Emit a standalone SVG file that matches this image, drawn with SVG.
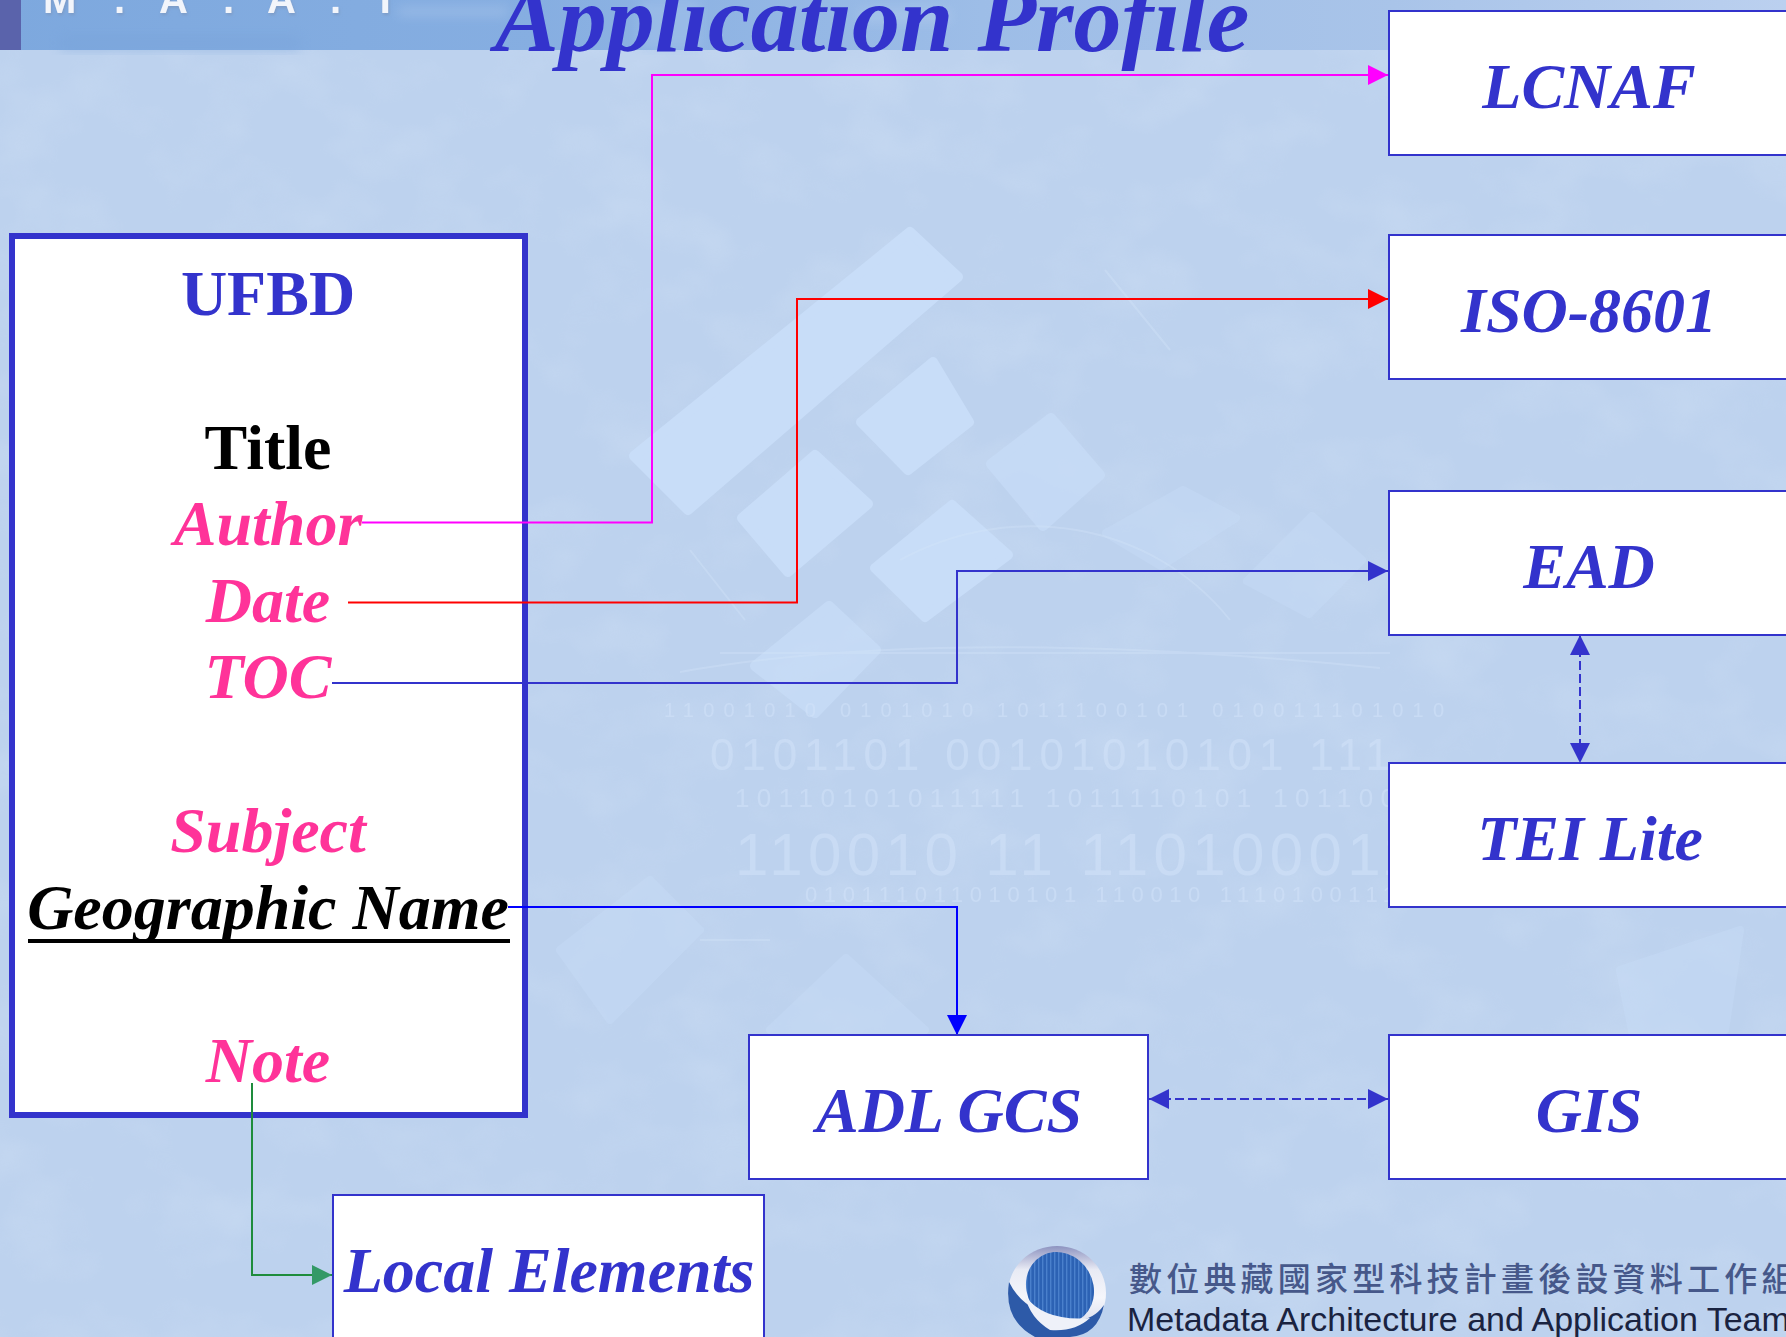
<svg xmlns="http://www.w3.org/2000/svg" width="1786" height="1337" viewBox="0 0 1786 1337">
<style>
.box{fill:#fff;stroke:#3333cc;stroke-width:2}
.lbl{font-family:"Liberation Serif","Times New Roman",serif;font-weight:bold;font-style:italic;font-size:64px;fill:#3333cc;text-anchor:middle}
.pink{font-family:"Liberation Serif","Times New Roman",serif;font-weight:bold;font-style:italic;font-size:64px;fill:#ff3399;text-anchor:middle}
.plain{font-family:"Liberation Serif","Times New Roman",serif;font-weight:bold;font-size:64px;text-anchor:middle}
.bg{font-family:"Liberation Sans",sans-serif;fill:#d4e4fa;opacity:.5}
.tile{fill:#c8ddf8;stroke:#c8ddf8;stroke-width:10;stroke-linejoin:round}
.faint{fill:#c8ddf8;stroke:#c8ddf8;stroke-width:8;stroke-linejoin:round;opacity:.4}
.fl{fill:none;stroke:#d4e4fa;stroke-width:2;opacity:.35}
.m{font-family:"Liberation Sans",sans-serif;font-weight:bold;font-size:40px;fill:#f2f5fb;filter:url(#sh)}
.c{fill:none;stroke-width:2}
</style>
<defs>
<filter id="sh" x="-30%" y="-30%" width="160%" height="160%"><feGaussianBlur stdDeviation=".7" result="b"/><feOffset dx="1" dy="2" in="SourceAlpha"/><feGaussianBlur stdDeviation="1.5"/><feColorMatrix values="0 0 0 0 .2 0 0 0 0 .3 0 0 0 0 .5 0 0 0 .7 0"/><feMerge><feMergeNode/><feMergeNode in="b"/></feMerge></filter>
<filter id="mot" x="0" y="0" width="100%" height="100%"><feTurbulence type="fractalNoise" baseFrequency=".012 .016" numOctaves="3" seed="7"/><feColorMatrix values="0 0 0 0 .85 0 0 0 0 .92 0 0 0 0 1 1.6 0 0 0 -.72"/></filter>
<filter id="bl"><feGaussianBlur stdDeviation="6"/></filter>
<linearGradient id="hd" x1="0" x2="1" y1="0" y2="0"><stop offset="0" stop-color="#7da8de"/><stop offset=".3" stop-color="#86aee1"/><stop offset=".55" stop-color="#9dbde7"/><stop offset=".78" stop-color="#a9c4e9"/><stop offset="1" stop-color="#bbd0ef"/></linearGradient>
<linearGradient id="ring" x1="0" x2="0" y1="0" y2="1"><stop offset="0" stop-color="#8d93c0"/><stop offset=".25" stop-color="#e8eaf4"/><stop offset=".55" stop-color="#f5f6fb"/><stop offset="1" stop-color="#c9cfe6"/></linearGradient>
<pattern id="st" width="4" height="4" patternUnits="userSpaceOnUse" patternTransform="rotate(30)"><rect width="4" height="4" fill="#2c62b4"/><rect width="1.4" height="4" fill="#4a80cc"/></pattern>
<marker id="mM" markerWidth="20" markerHeight="20" refX="20" refY="10" orient="auto" markerUnits="userSpaceOnUse"><path d="M0 0L20 10L0 20Z" fill="#ff00ff"/></marker>
<marker id="mR" markerWidth="20" markerHeight="20" refX="20" refY="10" orient="auto" markerUnits="userSpaceOnUse"><path d="M0 0L20 10L0 20Z" fill="#ff0000"/></marker>
<marker id="mB" markerWidth="20" markerHeight="20" refX="20" refY="10" orient="auto-start-reverse" markerUnits="userSpaceOnUse"><path d="M0 0L20 10L0 20Z" fill="#3333cc"/></marker>
<marker id="mP" markerWidth="20" markerHeight="20" refX="20" refY="10" orient="auto" markerUnits="userSpaceOnUse"><path d="M0 0L20 10L0 20Z" fill="#0000ff"/></marker>
<marker id="mG" markerWidth="20" markerHeight="20" refX="20" refY="10" orient="auto" markerUnits="userSpaceOnUse"><path d="M0 0L20 10L0 20Z" fill="#339966"/></marker>
</defs>
<rect width="1786" height="1337" fill="#bdd2ee"/>
<g id="background">
<rect width="1786" height="1337" filter="url(#mot)" opacity=".2"/>
<polygon class="tile" points="910,232 958,277 688,510 634,456"/>
<polygon class="tile" points="815,455 868,504 788,572 742,518"/>
<polygon class="tile" points="933,362 969,422 908,470 861,422"/>
<polygon class="tile" points="952,505 1008,555 925,617 875,568"/>
<polygon class="tile" points="991,464 1043,526 1100,475 1051,418" opacity=".7"/>
<polygon class="tile" points="829,606 876,650 815,713 755,666" opacity=".75"/>
<polygon class="faint" points="1106,533 1183,490 1236,518 1161,566"/>
<polygon class="faint" points="1247,581 1312,516 1362,560 1309,614"/>
<polygon class="faint" points="846,958 925,1030 856,1092 770,1030"/>
<polygon class="faint" points="560,950 650,880 700,930 610,1020"/>
<polygon class="faint" points="1620,970 1740,930 1725,1030 1640,1070"/>
<polygon class="faint" points="280,620 380,560 430,640 320,700" opacity=".25"/>
<path class="fl" d="M720 653H1390M680 672C860 640 1100 640 1380 668M900 560C1010 500 1150 520 1230 620M1105 270L1170 350M690 550L745 620M700 940H770"/>
<text class="bg" x="664" y="717" font-size="20" textLength="780">11001010  0101010 1011100101 010011101010</text>
<text class="bg" x="710" y="770" font-size="44" textLength="680">0101101  00101010101 111</text>
<text class="bg" x="735" y="807" font-size="26" textLength="660">10110101011111 1011110101 101100</text>
<text class="bg" x="735" y="875" font-size="60" textLength="680">110010 11 110100011</text>
<text class="bg" x="805" y="902" font-size="22" textLength="590">010111011010101 110010 1110100111</text>
</g>
<g id="header">
<rect x="0" y="0" width="1786" height="50" fill="url(#hd)"/>
<g filter="url(#bl)" opacity=".4">
<rect x="398" y="8" width="110" height="7" fill="#c4d8f4"/>
<rect x="640" y="0" width="60" height="50" fill="#a9c6ee"/>
<rect x="860" y="10" width="90" height="12" fill="#bdd3f2"/>
<rect x="60" y="36" width="240" height="14" fill="#78a2d9"/>
</g>
<rect x="0" y="0" width="21" height="50" fill="#5a63ab"/>
<text class="m" x="43" y="13">M</text>
<text class="m" x="114" y="13">.</text>
<text class="m" x="159" y="13">A</text>
<text class="m" x="223" y="13">.</text>
<text class="m" x="267" y="13">A</text>
<text class="m" x="330" y="13">.</text>
<text class="m" x="373" y="13">T</text>
</g>
<g id="title"><text class="lbl" x="872" y="51" style="font-size:96px">Application Profile</text></g>
<g id="ufbd">
<rect x="12" y="236" width="513" height="879" fill="#fff" stroke="#3333cc" stroke-width="6"/>
<text class="plain" x="268" y="315" fill="#3333cc">UFBD</text>
<text class="plain" x="268" y="469" fill="#000">Title</text>
<text class="pink" x="268" y="545">Author</text>
<text class="pink" x="268" y="622">Date</text>
<text class="pink" x="268" y="698">TOC</text>
<text class="pink" x="268" y="852">Subject</text>
<text class="pink" x="268" y="929" style="fill:#000">Geographic Name</text>
<rect x="28" y="939" width="482" height="4" fill="#000"/>
<text class="pink" x="268" y="1082">Note</text>
</g>
<g id="connectors">
<path class="c" stroke="#ff00ff" d="M362 522.500H652V75H1388" marker-end="url(#mM)"/>
<path class="c" stroke="#ff0000" d="M348 602.500H797V299H1388" marker-end="url(#mR)"/>
<path class="c" stroke="#3333cc" d="M332 683H957V571H1388" marker-end="url(#mB)"/>
<path class="c" stroke="#0000ff" d="M508 907H957V1035" marker-end="url(#mP)"/>
<path class="c" stroke="#1e8c3c" d="M252 1083V1275H332" marker-end="url(#mG)"/>
<path class="c" stroke="#3333cc" stroke-dasharray="9 4" d="M1580 635V763" marker-start="url(#mB)" marker-end="url(#mB)"/>
<path class="c" stroke="#3333cc" stroke-dasharray="9 4" d="M1149 1099H1388" marker-start="url(#mB)" marker-end="url(#mB)"/>
</g>
<g id="lcnaf"><rect class="box" x="1389" y="11" width="420" height="144"/><text class="lbl" x="1589" y="108">LCNAF</text></g>
<g id="iso"><rect class="box" x="1389" y="235" width="420" height="144"/><text class="lbl" x="1589" y="332">ISO-8601</text></g>
<g id="ead"><rect class="box" x="1389" y="491" width="420" height="144"/><text class="lbl" x="1589" y="588">EAD</text></g>
<g id="tei"><rect class="box" x="1389" y="763" width="420" height="144"/><text class="lbl" x="1590" y="860">TEI Lite</text></g>
<g id="gis"><rect class="box" x="1389" y="1035" width="420" height="144"/><text class="lbl" x="1589" y="1132">GIS</text></g>
<g id="adl"><rect class="box" x="749" y="1035" width="399" height="144"/><text class="lbl" x="949" y="1132">ADL GCS</text></g>
<g id="local"><rect class="box" x="333" y="1195" width="431" height="170"/><text class="lbl" x="549" y="1292">Local Elements</text></g>
<g id="logo">
<ellipse cx="1057" cy="1293" rx="49" ry="47" fill="url(#ring)"/>
<ellipse cx="1060" cy="1288" rx="33" ry="37" transform="rotate(-30 1060 1288)" fill="url(#st)"/>
<path d="M1009 1282Q1025 1315 1072 1320Q1092 1322 1104 1305Q1098 1335 1070 1337H1035Q1003 1320 1009 1282Z" fill="#2d5aa8"/>
<path d="M1025 1296Q1045 1322 1090 1318Q1075 1332 1050 1330Q1030 1318 1025 1296Z" fill="#eef1f9"/>
<text x="1129" y="1291" font-family="Noto Sans CJK TC,sans-serif" font-weight="500" font-size="33" fill="#46588a" letter-spacing="4.200">數位典藏國家型科技計畫後設資料工作組</text>
<text x="1127" y="1331" font-family="Liberation Sans,sans-serif" font-size="34" fill="#1a2340">Metadata Architecture and Application Team</text>
</g>
</svg>
